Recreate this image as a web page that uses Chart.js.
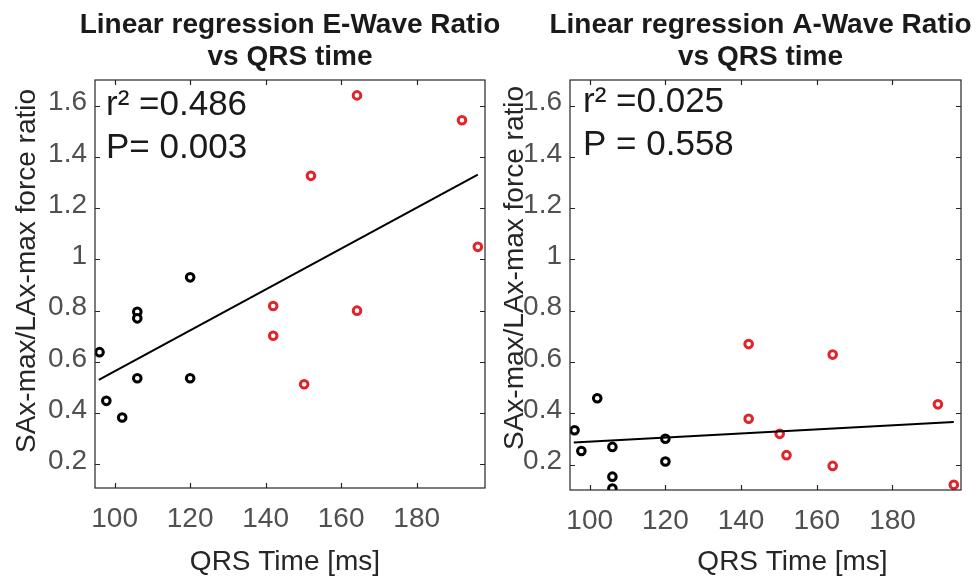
<!DOCTYPE html>
<html>
<head>
<meta charset="utf-8">
<script src="https://cdn.jsdelivr.net/npm/chart.js@4.4.1/dist/chart.umd.min.js"></script>
<style>
  html, body { margin: 0; padding: 0; background: #fff; }
  #wrap { position: relative; width: 978px; height: 577px; }
  .panel { position: absolute; top: 0; left: 0; width: 978px; height: 577px; }
</style>
</head>
<body>
<div id="wrap">
  <div class="panel"><canvas id="eChart"></canvas></div>
  <div class="panel"><canvas id="aChart"></canvas></div>
</div>
<script>
const FONT = '"Liberation Sans", Arial, Helvetica, sans-serif';
const RED = "#e3232a";

// QRS time [ms] (same subjects in both panels)
const qrsBlack = [96, 97.8, 102, 106, 106, 106, 120, 120];
const qrsRed = [142, 142, 150.2, 152, 164.2, 164.2, 192, 196.2];

// SAx-max/LAx-max force ratio
const eRatioBlack = [0.638, 0.448, 0.383, 0.796, 0.770, 0.536, 0.930, 0.536];
const eRatioRed = [0.818, 0.702, 0.513, 1.326, 1.640, 0.800, 1.543, 1.049];
const aRatioBlack = [0.334, 0.253, 0.459, 0.269, 0.153, 0.107, 0.301, 0.212];
const aRatioRed = [0.670, 0.379, 0.320, 0.237, 0.629, 0.195, 0.435, 0.121];

// regression line end points
const fitX = [95.8, 196.2];
const eFitY = [0.530, 1.331];
const aFitY = [0.286, 0.366];

const xTickStep = 20;
const yTickStep = 0.2;

const toPoints = (xs, ys) => xs.map((x, i) => ({ x: x, y: ys[i] }));

// draws the matlab-like box, inward ticks, titles, axis labels and r2/P text
function decorFor(cfg) {
  return {
    id: "decor",
    afterDraw(chart) {
      const ctx = chart.ctx;
      const a = chart.chartArea;
      const xs = chart.scales.x;
      const ys = chart.scales.y;
      ctx.save();

      ctx.strokeStyle = "#262626";
      ctx.lineWidth = 1.2;
      ctx.strokeRect(a.left, a.top, a.right - a.left, a.bottom - a.top);
      ctx.beginPath();
      xs.ticks.forEach(t => {
        const px = Math.round(xs.getPixelForValue(t.value)) + 0.5;
        ctx.moveTo(px, a.bottom); ctx.lineTo(px, a.bottom - 5);
        ctx.moveTo(px, a.top); ctx.lineTo(px, a.top + 5);
      });
      ys.ticks.forEach(t => {
        const py = Math.round(ys.getPixelForValue(t.value)) + 0.5;
        ctx.moveTo(a.left, py); ctx.lineTo(a.left + 5, py);
        ctx.moveTo(a.right, py); ctx.lineTo(a.right - 5, py);
      });
      ctx.stroke();

      // title
      ctx.fillStyle = "#1a1a1a";
      ctx.textAlign = "center";
      ctx.textBaseline = "alphabetic";
      ctx.font = "bold 28px " + FONT;
      const cx = (a.left + a.right) / 2 + cfg.titleDx;
      cfg.title.forEach((s, i) => ctx.fillText(s, cx, 33 + i * 32));

      // x label
      ctx.fillStyle = "#262626";
      ctx.font = "28px " + FONT;
      ctx.fillText(cfg.xLabel, (a.left + a.right) / 2 + cfg.xLabelDx, 570);

      // y label
      ctx.save();
      ctx.translate(a.left - cfg.yLabelGap, cfg.yLabelY);
      ctx.rotate(-Math.PI / 2);
      ctx.fillText(cfg.yLabel, 0, 0);
      ctx.restore();

      // stats text
      ctx.fillStyle = "#1a1a1a";
      ctx.textAlign = "left";
      ctx.font = "35px " + FONT;
      cfg.notes.forEach((s, i) => ctx.fillText(s, a.left + cfg.noteDx, cfg.noteY + i * 43));

      ctx.restore();
    }
  };
}

function makeChart(id, blackY, redY, fitY, yMin, xAxisH, yAxisW, pad, cfg) {
  return new Chart(document.getElementById(id), {
    type: "scatter",
    data: {
      datasets: [
        {
          data: toPoints(fitX, fitY),
          showLine: true,
          borderColor: "#000",
          borderWidth: 2,
          pointRadius: 0,
          pointHoverRadius: 0
        },
        {
          data: toPoints(qrsBlack, blackY),
          pointRadius: 3.8,
          pointHoverRadius: 3.8,
          pointBorderWidth: 3,
          pointBorderColor: "#000",
          pointBackgroundColor: "#fff"
        },
        {
          data: toPoints(qrsRed, redY),
          pointRadius: 3.8,
          pointHoverRadius: 3.8,
          pointBorderWidth: 3,
          pointBorderColor: RED,
          pointBackgroundColor: "#fff"
        }
      ]
    },
    options: {
      responsive: true,
      maintainAspectRatio: false,
      animation: false,
      layout: { padding: { top: 80, right: pad.right, bottom: 0, left: pad.left } },
      plugins: {
        legend: { display: false },
        tooltip: { enabled: false }
      },
      scales: {
        x: {
          type: "linear",
          min: 94.8,
          max: 198.1,
          afterFit: s => { s.height = xAxisH; },
          grid: { display: false, drawTicks: false },
          border: { display: false },
          ticks: {
            stepSize: xTickStep,
            includeBounds: false,
            padding: 14,
            maxRotation: 0,
            autoSkip: false,
            color: "#505050",
            font: { family: FONT, size: 28 }
          }
        },
        y: {
          type: "linear",
          min: yMin,
          max: 1.70,
          afterFit: s => { s.width = yAxisW; },
          grid: { display: false, drawTicks: false },
          border: { display: false },
          ticks: {
            stepSize: yTickStep,
            includeBounds: false,
            padding: 8,
            labelOffset: -3,
            autoSkip: false,
            color: "#505050",
            font: { family: FONT, size: 28 },
            callback: v => String(+v.toFixed(1))
          }
        }
      }
    },
    plugins: [decorFor(cfg)]
  });
}

makeChart("eChart", eRatioBlack, eRatioRed, eFitY, 0.108, 89, 95, { left: 0, right: 493 }, {
  title: ["Linear regression E-Wave Ratio", "vs QRS time"],
  titleDx: 0,
  xLabel: "QRS Time [ms]",
  xLabelDx: -5,
  yLabel: "SAx-max/LAx-max force ratio",
  yLabelGap: 60,
  yLabelY: 271,
  notes: ["r\u00b2 =0.486", "P= 0.003"],
  noteDx: 11,
  noteY: 115
});

makeChart("aChart", aRatioBlack, aRatioRed, aFitY, 0.101, 87, 81, { left: 489, right: 17 }, {
  title: ["Linear regression A-Wave Ratio", "vs QRS time"],
  titleDx: -5,
  xLabel: "QRS Time [ms]",
  xLabelDx: 27,
  yLabel: "SAx-max/LAx-max force ratio",
  yLabelGap: 47,
  yLabelY: 268,
  notes: ["r\u00b2 =0.025", "P = 0.558"],
  noteDx: 13,
  noteY: 112
});
</script>
</body>
</html>
